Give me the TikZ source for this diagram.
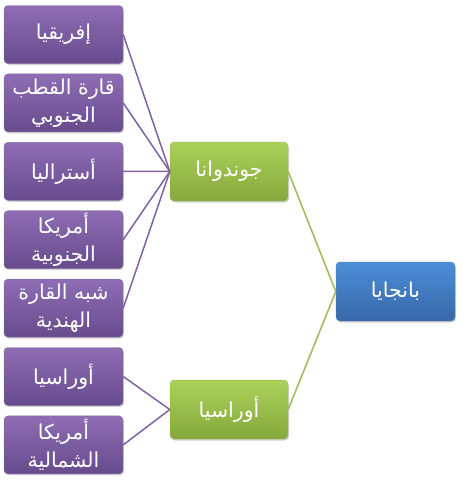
\documentclass[tikz,border=0pt]{standalone}
\usepackage{fontspec}
\newfontfamily\arabicfont[Script=Arabic]{DejaVu Sans}
\TeXXeTstate=1
\usetikzlibrary{positioning,shadows}

\definecolor{purpletop}{HTML}{8E6DB4}
\definecolor{purplebot}{HTML}{674B8C}
\definecolor{purpleline}{HTML}{7F62A6}
\definecolor{greentop}{HTML}{ABD15A}
\definecolor{greenbot}{HTML}{86A83C}
\definecolor{greenline}{HTML}{9BBB59}
\definecolor{bluetop}{HTML}{4C8ED8}
\definecolor{bluebot}{HTML}{3867A6}

\newcommand{\artext}[1]{\beginR #1\endR}

\begin{document}
\begin{tikzpicture}[x=1pt, y=-1pt,
  font=\arabicfont\fontsize{20.5}{28}\selectfont,
  box/.style={rounded corners=4pt, align=center, text=white, inner xsep=2pt, inner ysep=0pt,
    drop shadow={shadow xshift=1pt, shadow yshift=-1.5pt, opacity=0.35}},
  land/.style={box, top color=purpletop, bottom color=purplebot, draw=purplebot!80,
    minimum width=119pt, minimum height=58pt},
  super/.style={box, top color=greentop, bottom color=greenbot, draw=greenbot!80,
    minimum width=118pt, minimum height=59pt},
  pangea/.style={box, top color=bluetop, bottom color=bluebot, draw=bluebot!80,
    minimum width=119pt, minimum height=59pt},
  plink/.style={draw=purpleline, line width=1.5pt},
  glink/.style={draw=greenline, line width=1.5pt}]
  \useasboundingbox (0,0) rectangle (462,480);
  % continents
  \node[land] (africa) at (63.5,34.5) {\artext{إفريقيا}};
  \node[land, below=10pt of africa] (antarctica) {\artext{قارة القطب}\\\artext{الجنوبي}};
  \node[land, below=10pt of antarctica] (australia) {\artext{أستراليا}};
  \node[land, below=10pt of australia] (samerica) {\artext{أمريكا}\\\artext{الجنوبية}};
  \node[land, below=10pt of samerica] (india) {\artext{شبه القارة}\\\artext{الهندية}};
  \node[land, below=10pt of india] (eurasia) {\artext{أوراسيا}};
  \node[land, below=10pt of eurasia] (namerica) {\artext{أمريكا}\\\artext{الشمالية}};
  % supercontinents
  \node[super] (gondwana) at (229,171.5) {\artext{جوندوانا}};
  \node[super] (laurasia) at (229,409.5) {\artext{أوراسيا}};
  \node[pangea] (pangaea) at (395.5,291.5) {\artext{بانجايا}};
  % links
  \foreach \n in {africa,antarctica,australia,samerica,india}
    \draw[plink] (\n.east) -- (gondwana.west);
  \foreach \n in {eurasia,namerica}
    \draw[plink] (\n.east) -- (laurasia.west);
  \draw[glink] (gondwana.east) -- (pangaea.west);
  \draw[glink] (laurasia.east) -- (pangaea.west);
\end{tikzpicture}
\end{document}
